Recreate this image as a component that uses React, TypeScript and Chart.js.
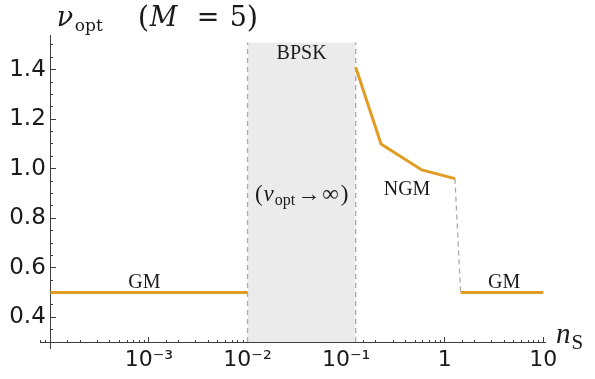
import React, { useEffect, useRef } from "react";
import { Chart, registerables } from "chart.js";

Chart.register(...registerables);

// ---------- data ----------
const gmLowX = [1e-4, 0.01];
const gmLowY = [0.5, 0.5];
const ngmX = [0.125, 0.226, 0.585, 1.27];
const ngmY = [1.41, 1.1, 0.995, 0.96];
const jumpX = [1.27, 1.45];
const jumpY = [0.96, 0.5];
const gmHighX = [1.45, 10];
const gmHighY = [0.5, 0.5];
const bpskX = [0.01, 0.125];
const bpskTop = 1.51;
const axisCrossY = 0.3;
const axisCrossX = 1e-4;

const xTickValues = [1e-3, 1e-2, 1e-1, 1, 10];
const xTickTexts = ["10\u207B\u00B3", "10\u207B\u00B2", "10\u207B\u00B9", "1", "10"];
const yTickValues = [0.4, 0.6, 0.8, 1.0, 1.2, 1.4];
const yTickTexts = ["0.4", "0.6", "0.8", "1.0", "1.2", "1.4"];

const X_MIN = 8e-5;
const X_MAX = 10.4;
const Y_MIN = 0.276;
const Y_MAX = 1.54;

// ---------- styles ----------
const ORANGE = "#E19C24";
const DASH_GRAY = "#A9A9A9";
const SHADE = "#EBEBEB";
const AXIS = "#3c3c3c";
const TEXT = "#1a1a1a";
const SERIF = '"Liberation Serif", "DejaVu Serif", serif';
const SERIF_WIDE = '"DejaVu Serif", "Liberation Serif", serif';

const pts = (xs: number[], ys: number[]) => xs.map((x, i) => ({ x, y: ys[i] }));

const isPow10 = (v: number) => {
  const l = Math.log10(v);
  return Math.abs(l - Math.round(l)) < 1e-6;
};

type Run = { text: string; size: number; italic?: boolean; dy?: number; gap?: number; at?: number; family?: string };

function font(r: Run) {
  return `${r.italic ? "italic " : ""}${r.size}px ${r.family || SERIF}`;
}

function runsWidth(ctx: CanvasRenderingContext2D, runs: Run[]) {
  let w = 0;
  for (const r of runs) {
    ctx.font = font(r);
    w += (r.gap || 0) + ctx.measureText(r.text).width;
  }
  return w;
}

function drawRuns(ctx: CanvasRenderingContext2D, runs: Run[], x: number, baseline: number, center = false) {
  let cx = center ? x - runsWidth(ctx, runs) / 2 : x;
  ctx.textAlign = "left";
  ctx.textBaseline = "alphabetic";
  ctx.fillStyle = TEXT;
  for (const r of runs) {
    ctx.font = font(r);
    if (r.at !== undefined) cx = x + r.at;
    cx += r.gap || 0;
    ctx.fillText(r.text, cx, baseline + (r.dy || 0));
    cx += ctx.measureText(r.text).width;
  }
}

const annotations = {
  id: "annotations",
  afterDraw(chart: any) {
    const ctx: CanvasRenderingContext2D = chart.ctx;
    const xs = chart.scales.x;
    const ys = chart.scales.y;
    const ca = chart.chartArea;
    ctx.save();
    const bpskCenter = Math.sqrt(bpskX[0] * bpskX[1]);
    // GM labels
    drawRuns(ctx, [{ text: "GM", size: 20 }], xs.getPixelForValue(9e-4), ys.getPixelForValue(0.5) - 5, true);
    drawRuns(ctx, [{ text: "GM", size: 20 }], xs.getPixelForValue(4.0), ys.getPixelForValue(0.5) - 5, true);
    // BPSK
    drawRuns(ctx, [{ text: "BPSK", size: 20 }], xs.getPixelForValue(bpskCenter), ys.getPixelForValue(1.443), true);
    // NGM
    drawRuns(ctx, [{ text: "NGM", size: 20 }], xs.getPixelForValue(0.415), ys.getPixelForValue(0.895), true);
    // (nu_opt -> infinity)
    drawRuns(
      ctx,
      [
        { text: "(", size: 23 },
        { text: "\u03BD", size: 23, italic: true, gap: 1 },
        { text: "opt", size: 16, dy: 4, gap: 1 },
        { text: "\u2192", size: 23, gap: 2 },
        { text: "\u221E", size: 23, gap: 2 },
        { text: ")", size: 23, gap: 2 },
      ],
      xs.getPixelForValue(bpskCenter),
      ys.getPixelForValue(0.869),
      true
    );
    // title
    const tx = ca.left + 16;
    drawRuns(
      ctx,
      [
        { text: "\u03BD", size: 27, italic: true, at: 0, family: SERIF_WIDE },
        { text: "opt", size: 17, dy: 5, at: 18, family: SERIF_WIDE },
        { text: "(", size: 29, dy: 1, at: 81, family: SERIF_WIDE },
        { text: "M", size: 27, italic: true, at: 93, family: SERIF_WIDE },
        { text: "=", size: 27, at: 140, family: SERIF_WIDE },
        { text: "5", size: 27, at: 173, family: SERIF_WIDE },
        { text: ")", size: 29, dy: 1, at: 190, family: SERIF_WIDE },
      ],
      tx,
      26
    );
    // x axis label n_S
    drawRuns(
      ctx,
      [
        { text: "n", size: 29, italic: true },
        { text: "S", size: 21, dy: 6, gap: 1 },
      ],
      ca.right + 11,
      ys.getPixelForValue(axisCrossY) + 1
    );
    ctx.restore();
  },
};

export default function App() {
  const ref = useRef<HTMLCanvasElement>(null);

  useEffect(() => {
    const lineDs = (data: any[], color: string, width: number, dash: number[] = []) => ({
      data,
      borderColor: color,
      borderWidth: width,
      borderDash: dash,
      pointRadius: 0,
      showLine: true,
      tension: 0,
      fill: false,
    });

    const chart = new Chart(ref.current as HTMLCanvasElement, {
      type: "scatter",
      data: {
        datasets: [
          lineDs(pts(gmLowX, gmLowY), ORANGE, 3),
          lineDs(pts(ngmX, ngmY), ORANGE, 3),
          lineDs(pts(gmHighX, gmHighY), ORANGE, 3),
          lineDs(pts(jumpX, jumpY), DASH_GRAY, 1.3, [5, 4]),
          lineDs(pts([bpskX[0], bpskX[0]], [axisCrossY, bpskTop]), DASH_GRAY, 1.3, [5, 4]),
          lineDs(pts([bpskX[1], bpskX[1]], [axisCrossY, bpskTop]), DASH_GRAY, 1.3, [5, 4]),
          {
            data: pts(bpskX, [bpskTop, bpskTop]),
            borderWidth: 0,
            borderColor: "rgba(0,0,0,0)",
            backgroundColor: SHADE,
            pointRadius: 0,
            showLine: true,
            fill: { value: axisCrossY },
          },
        ] as any,
      },
      options: {
        animation: false,
        responsive: false,
        maintainAspectRatio: false,
        layout: { padding: { left: 40.8, right: 50, top: 35, bottom: 31 } },
        plugins: {
          legend: { display: false },
          tooltip: { enabled: false },
          title: { display: false },
        },
        scales: {
          x: {
            type: "logarithmic",
            min: X_MIN,
            max: X_MAX,
            position: { y: axisCrossY } as any,
            border: { display: true, color: AXIS, width: 1 },
            grid: {
              display: true,
              drawOnChartArea: false,
              drawTicks: true,
              tickLength: -6,
              tickWidth: 1,
              tickColor: (c: any) => (c.tick && c.tick.value > 10.01 ? "rgba(0,0,0,0)" : AXIS),
              tickBorderDash: (c: any) => (c.tick && isPow10(c.tick.value) ? [] : [3, 20]),
            } as any,
            ticks: {
              autoSkip: false,
              maxRotation: 0,
              minRotation: 0,
              padding: 11,
              color: TEXT,
              font: { family: "DejaVu Sans", size: 22 },
              callback: (v: any) => {
                const i = xTickValues.findIndex((t) => Math.abs(Number(v) / t - 1) < 1e-6);
                return i >= 0 ? xTickTexts[i] : "";
              },
            },
          },
          y: {
            type: "linear",
            min: Y_MIN,
            max: Y_MAX,
            position: { x: axisCrossX } as any,
            border: { display: true, color: AXIS, width: 1 },
            grid: {
              display: true,
              drawOnChartArea: false,
              drawTicks: true,
              tickLength: -6,
              tickWidth: 1,
              tickColor: AXIS,
              tickBorderDash: (c: any) => {
                const v = c.tick ? c.tick.value : 0;
                return yTickValues.some((t) => Math.abs(t - v) < 1e-6) ? [] : [3, 20];
              },
            } as any,
            ticks: {
              stepSize: 0.05,
              includeBounds: false,
              autoSkip: false,
              padding: 4,
              color: TEXT,
              font: { family: "DejaVu Sans", size: 23 },
              callback: (v: any) => {
                const i = yTickValues.findIndex((t) => Math.abs(Number(v) - t) < 1e-6);
                return i >= 0 ? yTickTexts[i] + "\u2009" : "";
              },
            },
          },
        },
      },
      plugins: [annotations as any],
    });
    return () => chart.destroy();
  }, []);

  return (
    <div style={{ position: "absolute", left: 0, top: 0, width: 595, height: 379, background: "#fff" }}>
      <canvas ref={ref} width={595} height={379} style={{ display: "block", width: 595, height: 379 }} />
    </div>
  );
}
